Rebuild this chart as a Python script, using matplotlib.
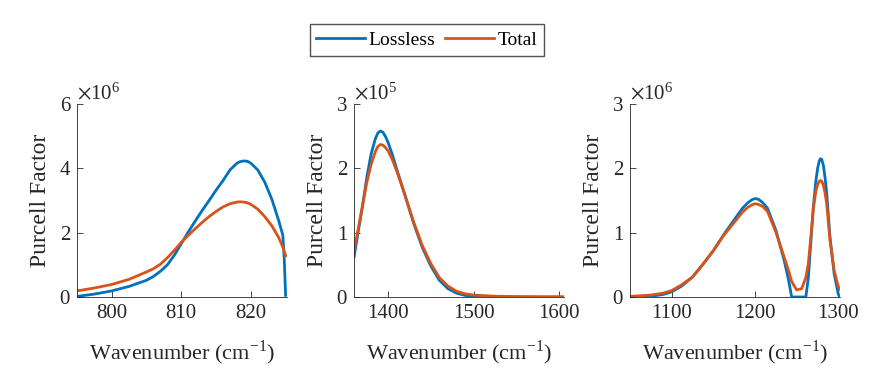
import matplotlib
matplotlib.use('Agg')
import matplotlib.pyplot as plt
import numpy as np

plt.rcParams['font.family'] = ['Liberation Serif', 'DejaVu Serif']
plt.rcParams['mathtext.fontset'] = 'stix'

# panel 1 (x1e6)
wn1 = [795, 797.5, 800, 802.5, 805, 806, 807, 808, 809, 810, 811, 812, 813, 814, 815, 816, 817, 818, 818.5, 819, 819.5, 820, 821, 822, 823, 824, 824.6, 824.8, 825]
lossless1 = [0.02, 0.09, 0.19, 0.33, 0.52, 0.64, 0.80, 1.00, 1.30, 1.66, 2.02, 2.36, 2.69, 3.00, 3.32, 3.62, 3.95, 4.16, 4.21, 4.23, 4.22, 4.16, 3.95, 3.57, 3.05, 2.38, 1.92, 1.2, 0.05]
total1 = [0.19, 0.28, 0.39, 0.55, 0.78, 0.88, 1.02, 1.22, 1.45, 1.70, 1.92, 2.12, 2.32, 2.50, 2.66, 2.80, 2.90, 2.95, 2.96, 2.95, 2.93, 2.88, 2.73, 2.50, 2.22, 1.85, 1.55, 1.42, 1.28]

# panel 2 (x1e5)
wn2 = [1360, 1365, 1370, 1375, 1380, 1385, 1388, 1391, 1394, 1397, 1400, 1405, 1410, 1415, 1420, 1430, 1440, 1450, 1460, 1470, 1480, 1490, 1500, 1525, 1550, 1575, 1606]
lossless2 = [0.62, 1.02, 1.42, 1.86, 2.22, 2.46, 2.55, 2.58, 2.56, 2.49, 2.40, 2.21, 1.99, 1.78, 1.57, 1.14, 0.77, 0.48, 0.26, 0.13, 0.06, 0.025, 0.01, 0.002, 0.0, 0.0, 0.0]
total2 = [0.72, 1.06, 1.42, 1.78, 2.06, 2.26, 2.34, 2.37, 2.36, 2.32, 2.27, 2.13, 1.96, 1.77, 1.57, 1.16, 0.80, 0.52, 0.30, 0.17, 0.09, 0.05, 0.03, 0.012, 0.006, 0.003, 0.002]

# panel 3 (x1e6)
wn3 = [1050, 1075, 1090, 1100, 1112, 1125, 1137, 1150, 1162, 1175, 1185, 1191, 1196, 1200, 1204, 1209, 1215, 1225, 1235, 1240, 1244, 1250, 1256, 1261, 1264, 1267, 1270, 1273, 1275, 1277, 1278.5, 1280, 1282, 1284, 1286, 1290, 1295, 1300, 1302]
lossless3 = [0.0, 0.01, 0.04, 0.08, 0.17, 0.31, 0.50, 0.72, 0.96, 1.20, 1.38, 1.46, 1.51, 1.53, 1.52, 1.47, 1.38, 1.04, 0.57, 0.28, 0.0, 0.0, 0.0, 0.0, 0.30, 0.85, 1.40, 1.80, 1.99, 2.11, 2.15, 2.14, 2.05, 1.86, 1.62, 0.93, 0.36, 0.04, 0.0]
total3 = [0.01, 0.03, 0.06, 0.10, 0.19, 0.31, 0.50, 0.72, 0.95, 1.16, 1.32, 1.39, 1.43, 1.45, 1.44, 1.41, 1.33, 1.01, 0.62, 0.42, 0.24, 0.11, 0.13, 0.30, 0.52, 0.93, 1.37, 1.64, 1.74, 1.80, 1.81, 1.80, 1.74, 1.62, 1.45, 0.88, 0.41, 0.16, 0.12]

panels = [
    (wn1, lossless1, total1, (795, 825.2), [800, 810, 820], (0, 6), [0, 2, 4, 6], r'$\times\mathregular{10^6}$'),
    (wn2, lossless2, total2, (1360, 1606), [1400, 1500, 1600], (0, 3), [0, 1, 2, 3], r'$\times\mathregular{10^5}$'),
    (wn3, lossless3, total3, (1050, 1302), [1100, 1200, 1300], (0, 3), [0, 1, 2, 3], r'$\times\mathregular{10^6}$'),
]
lefts = [77/871, 354/871, 630/871]

blue = '#0072BD'
orange = '#D95319'

fig = plt.figure(figsize=(8.71, 3.82), dpi=100)
for left, (wn, ll, tt, xl, xt, yl, yt, mult) in zip(lefts, panels):
    ax = fig.add_axes([left, 85/382, 210/871, 193/382])
    l1, = ax.plot(wn, ll, color=blue, lw=2, label='Lossless')
    l2, = ax.plot(wn, tt, color=orange, lw=2, label='Total')
    ax.set_xlim(xl); ax.set_ylim(yl)
    ax.set_xticks(xt); ax.set_yticks(yt)
    for s in ['top', 'right']:
        ax.spines[s].set_visible(False)
    for s in ['left', 'bottom']:
        ax.spines[s].set_color('#262626')
        ax.spines[s].set_linewidth(0.6)
    ax.tick_params(direction='in', labelsize=15, colors='#262626', length=4, width=0.6, pad=5)
    ax.set_xlabel(r'Wavenumber (cm$^{\mathregular{-1}}$)', fontsize=16, color='#262626', va='baseline')
    ax.xaxis.set_label_coords(0.5, -0.321)
    ax.set_ylabel('Purcell Factor', fontsize=17, color='#262626', va='center')
    ax.yaxis.set_label_coords(-0.176, 0.5)
    ax.text(0.0, 1.0, mult, transform=ax.transAxes, fontsize=15, color='#262626', ha='left', va='bottom')

fig.legend([l1, l2], ['Lossless', 'Total'], loc='center', bbox_to_anchor=(427/871, 1 - 40/382),
           ncol=2, fontsize=14, frameon=True, fancybox=False, edgecolor='#262626',
           handlelength=2.5, handletextpad=0.2, columnspacing=0.5, borderpad=0.35, borderaxespad=0)

plt.savefig('out.png', dpi=100)
